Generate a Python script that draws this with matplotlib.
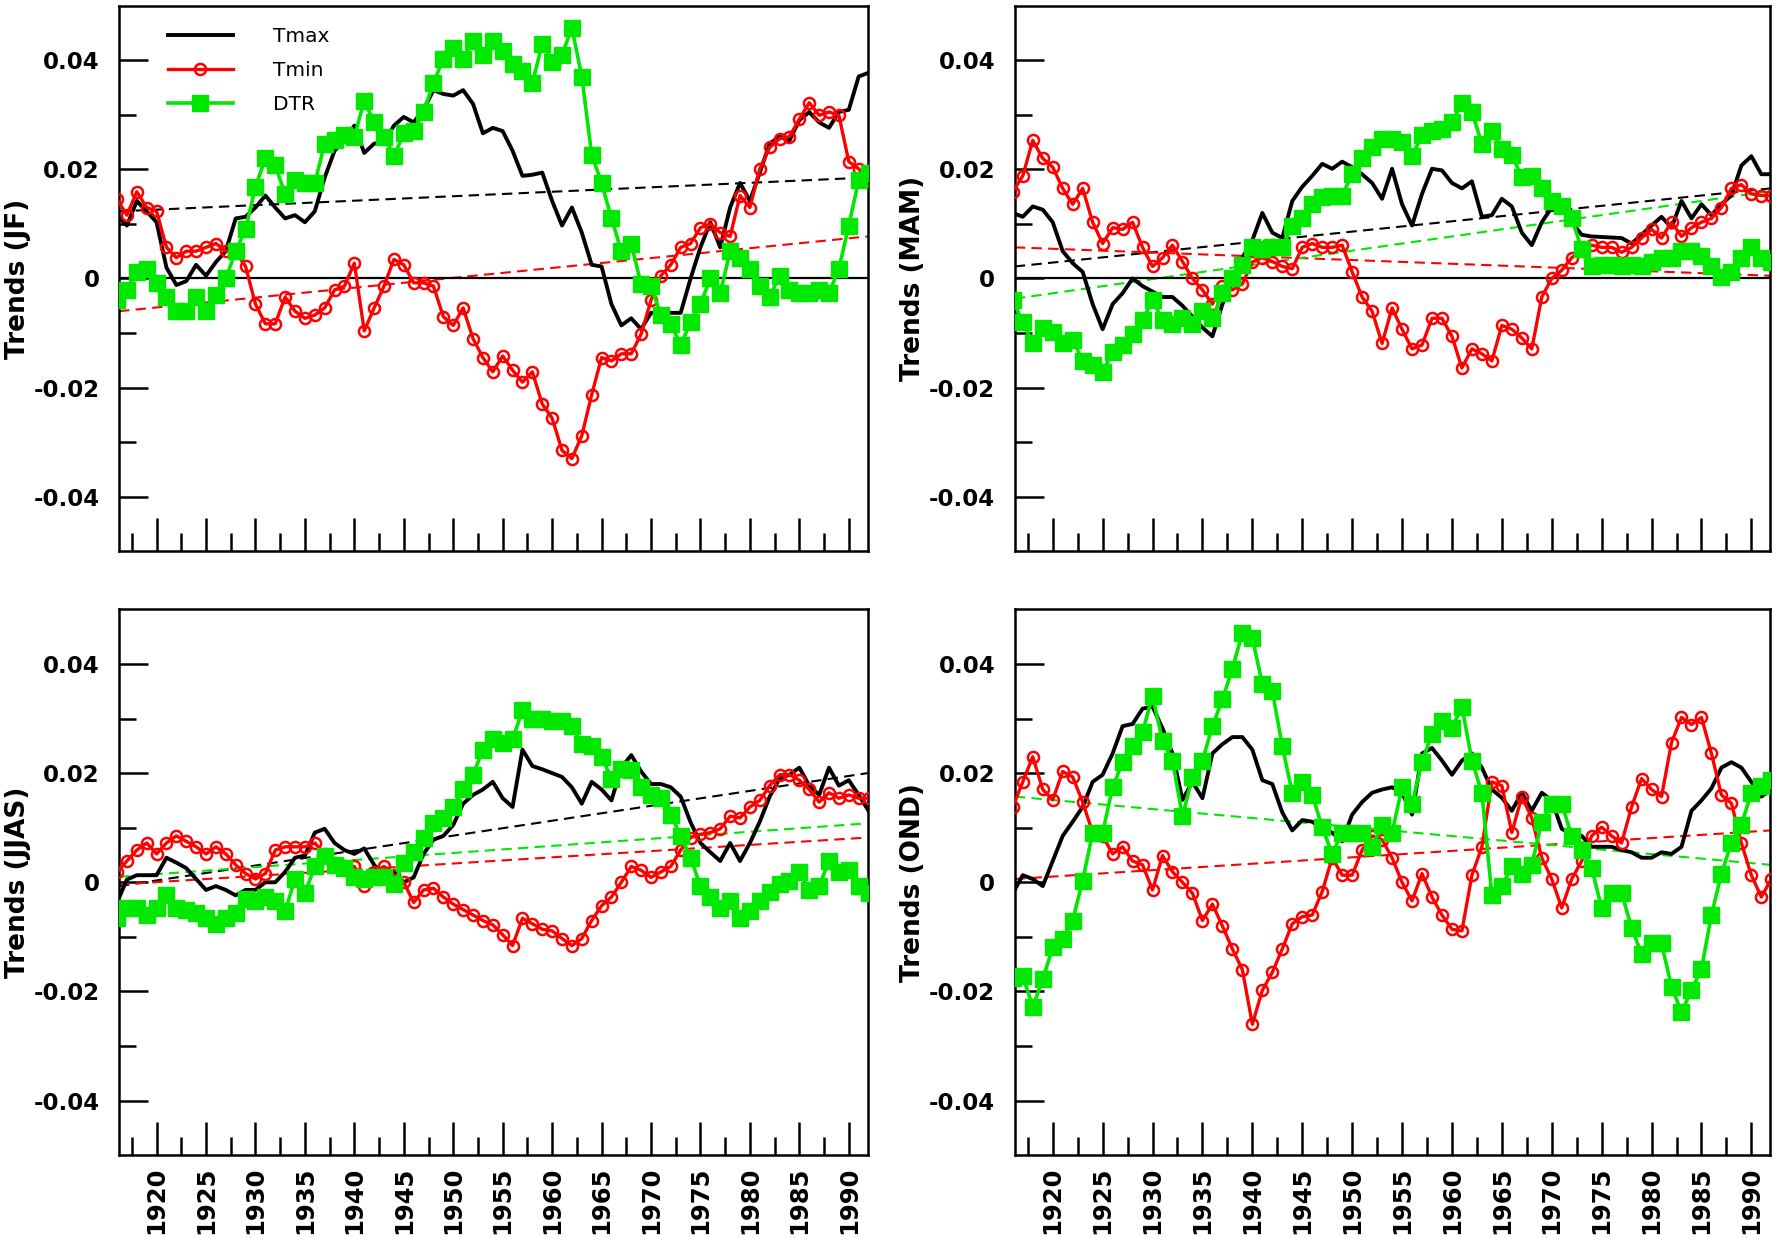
import numpy as np
import matplotlib
matplotlib.use("Agg")
import matplotlib.pyplot as plt
from matplotlib.ticker import FixedLocator, FixedFormatter

years = np.arange(1916, 1993)

# JF
jf_tmax = [0.0116, 0.0097, 0.0142, 0.0123, 0.0103, 0.0020, -0.0012, -0.0005, 0.0025, 0.0005,
           0.0030, 0.0050, 0.0110, 0.0113, 0.0130, 0.0152, 0.0130, 0.0110, 0.0116, 0.0103,
           0.0123, 0.0185, 0.0234, 0.0253, 0.0280, 0.0230, 0.0247, 0.0250, 0.0280, 0.0296,
           0.0286, 0.0310, 0.0345, 0.0338, 0.0335, 0.0345, 0.0320, 0.0266, 0.0276, 0.0270,
           0.0234, 0.0188, 0.0190, 0.0194, 0.0142, 0.0097, 0.0130, 0.0084, 0.0025, 0.0022,
           -0.0047, -0.0086, -0.0073, -0.0093, -0.0063, -0.0063, -0.0063, -0.0063, 0.0000, 0.0057,
           0.0103, 0.0057, 0.0130, 0.0175, 0.0142, 0.0194, 0.0247, 0.0260, 0.0253, 0.0290,
           0.0305, 0.0286, 0.0276, 0.0305, 0.0309, 0.0370, 0.0377]
jf_tmin = [0.0145, 0.0116, 0.0159, 0.0130, 0.0123, 0.0057, 0.0038, 0.0050, 0.0050, 0.0057,
           0.0064, 0.0050, 0.0050, 0.0022, -0.0047, -0.0083, -0.0083, -0.0034, -0.0060, -0.0073,
           -0.0067, -0.0054, -0.0021, -0.0014, 0.0028, -0.0096, -0.0054, -0.0014, 0.0035, 0.0025,
           -0.0008, -0.0008, -0.0014, -0.0070, -0.0086, -0.0054, -0.0110, -0.0145, -0.0171, -0.0142,
           -0.0168, -0.0190, -0.0171, -0.0230, -0.0256, -0.0315, -0.0330, -0.0288, -0.0213, -0.0145,
           -0.0151, -0.0138, -0.0138, -0.0102, -0.0040, 0.0005, 0.0025, 0.0057, 0.0064, 0.0093,
           0.0100, 0.0084, 0.0077, 0.0152, 0.0130, 0.0201, 0.0240, 0.0256, 0.0260, 0.0292,
           0.0322, 0.0299, 0.0305, 0.0299, 0.0214, 0.0201, 0.0180]
jf_dtr = [-0.0040, -0.0021, 0.0012, 0.0018, -0.0008, -0.0034, -0.0060, -0.0060, -0.0034, -0.0060,
          -0.0030, 0.0000, 0.0050, 0.0090, 0.0168, 0.0220, 0.0207, 0.0155, 0.0180, 0.0175,
          0.0175, 0.0247, 0.0253, 0.0263, 0.0260, 0.0325, 0.0286, 0.0260, 0.0224, 0.0266,
          0.0270, 0.0305, 0.0358, 0.0403, 0.0423, 0.0403, 0.0436, 0.0410, 0.0436, 0.0416,
          0.0393, 0.0380, 0.0358, 0.0430, 0.0397, 0.0410, 0.0459, 0.0370, 0.0227, 0.0175,
          0.0110, 0.0050, 0.0064, -0.0011, -0.0014, -0.0067, -0.0083, -0.0122, -0.0080, -0.0047,
          0.0000, -0.0027, 0.0050, 0.0038, 0.0018, -0.0014, -0.0034, 0.0005, -0.0021, -0.0027,
          -0.0027, -0.0021, -0.0027, 0.0018, 0.0097, 0.0180, 0.0194]

# MAM
mam_tmax = [0.0120, 0.0113, 0.0132, 0.0126, 0.0103, 0.0050, 0.0028, 0.0012, -0.0047, -0.0093,
            -0.0047, -0.0027, 0.0000, -0.0014, -0.0024, -0.0034, -0.0034, -0.0050, -0.0070, -0.0090,
            -0.0106, -0.0047, -0.0008, 0.0038, 0.0070, 0.0120, 0.0084, 0.0074, 0.0142, 0.0168,
            0.0188, 0.0210, 0.0201, 0.0214, 0.0204, 0.0191, 0.0175, 0.0146, 0.0201, 0.0136,
            0.0097, 0.0155, 0.0201, 0.0198, 0.0175, 0.0165, 0.0178, 0.0113, 0.0116, 0.0146,
            0.0132, 0.0084, 0.0061, 0.0103, 0.0130, 0.0136, 0.0103, 0.0080, 0.0077, 0.0076,
            0.0075, 0.0074, 0.0064, 0.0080, 0.0097, 0.0113, 0.0093, 0.0142, 0.0110, 0.0136,
            0.0116, 0.0136, 0.0152, 0.0207, 0.0224, 0.0191, 0.0191]
mam_tmin = [0.0159, 0.0188, 0.0253, 0.0220, 0.0204, 0.0165, 0.0136, 0.0165, 0.0103, 0.0064,
            0.0093, 0.0090, 0.0103, 0.0057, 0.0022, 0.0038, 0.0061, 0.0031, 0.0000, -0.0021,
            -0.0047, -0.0014, -0.0021, -0.0010, 0.0030, 0.0038, 0.0031, 0.0022, 0.0018, 0.0057,
            0.0064, 0.0057, 0.0057, 0.0061, 0.0012, -0.0034, -0.0060, -0.0119, -0.0054, -0.0093,
            -0.0129, -0.0122, -0.0073, -0.0073, -0.0106, -0.0164, -0.0129, -0.0138, -0.0151, -0.0086,
            -0.0093, -0.0109, -0.0129, -0.0034, 0.0000, 0.0015, 0.0038, 0.0050, 0.0061, 0.0057,
            0.0057, 0.0048, 0.0057, 0.0074, 0.0090, 0.0074, 0.0103, 0.0077, 0.0093, 0.0103,
            0.0110, 0.0130, 0.0165, 0.0172, 0.0155, 0.0152, 0.0152]
mam_dtr = [-0.0040, -0.0080, -0.0119, -0.0090, -0.0099, -0.0119, -0.0112, -0.0151, -0.0158, -0.0171,
           -0.0135, -0.0122, -0.0102, -0.0076, -0.0040, -0.0076, -0.0083, -0.0073, -0.0083, -0.0060,
           -0.0073, -0.0027, 0.0000, 0.0025, 0.0057, 0.0054, 0.0057, 0.0057, 0.0097, 0.0110,
           0.0136, 0.0149, 0.0152, 0.0152, 0.0191, 0.0220, 0.0240, 0.0256, 0.0256, 0.0250,
           0.0224, 0.0263, 0.0270, 0.0273, 0.0286, 0.0322, 0.0305, 0.0247, 0.0270, 0.0237,
           0.0227, 0.0185, 0.0188, 0.0165, 0.0142, 0.0132, 0.0110, 0.0054, 0.0022, 0.0025,
           0.0025, 0.0022, 0.0025, 0.0022, 0.0030, 0.0038, 0.0038, 0.0050, 0.0050, 0.0041,
           0.0022, 0.0003, 0.0012, 0.0038, 0.0057, 0.0038, 0.0031]

# JJAS
jjas_tmax = [-0.0037, 0.0005, 0.0013, 0.0013, 0.0013, 0.0045, 0.0036, 0.0026, 0.0006, -0.0014,
             -0.0007, -0.0014, -0.0024, -0.0014, -0.0014, 0.0000, 0.0000, 0.0019, 0.0045, 0.0049,
             0.0091, 0.0098, 0.0072, 0.0059, 0.0052, 0.0062, 0.0032, 0.0013, 0.0019, 0.0000,
             0.0009, 0.0052, 0.0078, 0.0085, 0.0105, 0.0144, 0.0160, 0.0170, 0.0184, 0.0154,
             0.0138, 0.0243, 0.0213, 0.0207, 0.0200, 0.0193, 0.0174, 0.0144, 0.0184, 0.0170,
             0.0150, 0.0210, 0.0233, 0.0203, 0.0180, 0.0180, 0.0174, 0.0157, 0.0110, 0.0072,
             0.0055, 0.0039, 0.0072, 0.0039, 0.0072, 0.0111, 0.0157, 0.0190, 0.0197, 0.0210,
             0.0177, 0.0160, 0.0210, 0.0177, 0.0187, 0.0160, 0.0131]
jjas_tmin = [0.0019, 0.0039, 0.0059, 0.0072, 0.0052, 0.0072, 0.0085, 0.0075, 0.0065, 0.0052,
             0.0065, 0.0052, 0.0032, 0.0016, 0.0006, 0.0016, 0.0059, 0.0065, 0.0065, 0.0065,
             0.0072, 0.0052, 0.0036, 0.0029, 0.0029, -0.0007, 0.0019, 0.0029, 0.0013, 0.0000,
             -0.0037, -0.0014, -0.0011, -0.0027, -0.0040, -0.0050, -0.0060, -0.0070, -0.0078, -0.0096,
             -0.0116, -0.0066, -0.0076, -0.0086, -0.0089, -0.0103, -0.0116, -0.0103, -0.0070, -0.0043,
             -0.0027, 0.0000, 0.0029, 0.0022, 0.0009, 0.0019, 0.0029, 0.0059, 0.0082, 0.0088,
             0.0091, 0.0098, 0.0121, 0.0118, 0.0138, 0.0150, 0.0177, 0.0197, 0.0197, 0.0187,
             0.0170, 0.0147, 0.0164, 0.0154, 0.0160, 0.0154, 0.0154]
jjas_dtr = [-0.0066, -0.0047, -0.0047, -0.0060, -0.0047, -0.0024, -0.0047, -0.0050, -0.0057, -0.0066,
            -0.0076, -0.0066, -0.0057, -0.0030, -0.0034, -0.0027, -0.0034, -0.0053, 0.0006, -0.0020,
            0.0029, 0.0049, 0.0032, 0.0026, 0.0009, 0.0006, 0.0009, 0.0009, -0.0004, 0.0036,
            0.0055, 0.0082, 0.0108, 0.0118, 0.0138, 0.0170, 0.0197, 0.0243, 0.0262, 0.0256,
            0.0262, 0.0315, 0.0299, 0.0299, 0.0295, 0.0295, 0.0286, 0.0253, 0.0250, 0.0230,
            0.0190, 0.0208, 0.0205, 0.0175, 0.0160, 0.0154, 0.0124, 0.0085, 0.0045, -0.0007,
            -0.0027, -0.0047, -0.0034, -0.0066, -0.0053, -0.0034, -0.0017, -0.0004, 0.0003, 0.0019,
            -0.0014, -0.0007, 0.0039, 0.0019, 0.0022, -0.0007, -0.0020]

# OND
ond_tmax = [-0.0020, 0.0013, 0.0006, -0.0007, 0.0039, 0.0085, 0.0111, 0.0138, 0.0184, 0.0197,
            0.0236, 0.0286, 0.0290, 0.0318, 0.0322, 0.0282, 0.0236, 0.0151, 0.0184, 0.0154,
            0.0236, 0.0253, 0.0266, 0.0266, 0.0243, 0.0187, 0.0180, 0.0128, 0.0095, 0.0114,
            0.0111, 0.0098, 0.0091, 0.0075, 0.0124, 0.0147, 0.0164, 0.0170, 0.0174, 0.0164,
            0.0124, 0.0236, 0.0246, 0.0223, 0.0197, 0.0223, 0.0236, 0.0210, 0.0170, 0.0155,
            0.0131, 0.0164, 0.0131, 0.0164, 0.0150, 0.0098, 0.0088, 0.0085, 0.0065, 0.0065,
            0.0065, 0.0059, 0.0055, 0.0045, 0.0045, 0.0055, 0.0052, 0.0065, 0.0131, 0.0150,
            0.0172, 0.0210, 0.0220, 0.0210, 0.0184, 0.0157, 0.0170]
ond_tmin = [0.0138, 0.0184, 0.0230, 0.0170, 0.0151, 0.0203, 0.0193, 0.0147, 0.0091, 0.0085,
            0.0052, 0.0065, 0.0039, 0.0032, -0.0014, 0.0049, 0.0019, 0.0000, -0.0020, -0.0070,
            -0.0040, -0.0080, -0.0122, -0.0160, -0.0260, -0.0198, -0.0165, -0.0122, -0.0076, -0.0063,
            -0.0060, -0.0017, 0.0045, 0.0013, 0.0013, 0.0059, 0.0085, 0.0078, 0.0045, 0.0000,
            -0.0034, 0.0016, -0.0027, -0.0060, -0.0086, -0.0089, 0.0013, 0.0065, 0.0184, 0.0177,
            0.0091, 0.0157, 0.0118, 0.0045, 0.0006, -0.0047, 0.0006, 0.0039, 0.0085, 0.0101,
            0.0085, 0.0072, 0.0138, 0.0190, 0.0170, 0.0157, 0.0256, 0.0302, 0.0289, 0.0302,
            0.0236, 0.0160, 0.0145, 0.0072, 0.0013, -0.0027, 0.0006]
ond_dtr = [-0.0175, -0.0172, -0.0228, -0.0178, -0.0119, -0.0103, -0.0070, 0.0003, 0.0091, 0.0091,
           0.0174, 0.0220, 0.0249, 0.0276, 0.0341, 0.0259, 0.0223, 0.0121, 0.0193, 0.0223,
           0.0286, 0.0335, 0.0391, 0.0457, 0.0447, 0.0364, 0.0351, 0.0249, 0.0164, 0.0184,
           0.0160, 0.0101, 0.0052, 0.0091, 0.0091, 0.0091, 0.0065, 0.0105, 0.0091, 0.0174,
           0.0144, 0.0220, 0.0272, 0.0295, 0.0282, 0.0322, 0.0223, 0.0164, -0.0024, -0.0007,
           0.0029, 0.0016, 0.0032, 0.0111, 0.0144, 0.0144, 0.0085, 0.0059, 0.0026, -0.0047,
           -0.0020, -0.0020, -0.0083, -0.0132, -0.0112, -0.0112, -0.0191, -0.0238, -0.0198, -0.0159,
           -0.0060, 0.0016, 0.0072, 0.0105, 0.0164, 0.0177, 0.0187]

seasons = ["JF", "MAM", "JJAS", "OND"]
series = {
    "JF": (jf_tmax, jf_tmin, jf_dtr),
    "MAM": (mam_tmax, mam_tmin, mam_dtr),
    "JJAS": (jjas_tmax, jjas_tmin, jjas_dtr),
    "OND": (ond_tmax, ond_tmin, ond_dtr),
}
# linear trend lines: (start value, end value) for Tmax, Tmin, DTR; None = not drawn
trends = {
    "JF": [(0.0123, 0.0185), (-0.0060, 0.0077), None],
    "MAM": [(0.0022, 0.0165), (0.0057, 0.0005), (-0.0037, 0.0160)],
    "JJAS": [(-0.0007, 0.0200), (-0.0004, 0.0082), (0.0010, 0.0108)],
    "OND": [None, (0.0006, 0.0095), (0.0157, 0.0032)],
}
zero_line = {"JF": True, "MAM": True, "JJAS": False, "OND": False}

x0, x1 = 1916.2, 1991.9
green = "#00e800"
colors = ["black", "red", green]

fig = plt.figure(figsize=(17.76, 12.39), dpi=100)
boxes = [
    [0.067, 0.555, 0.4215, 0.4405],
    [0.5714, 0.555, 0.4254, 0.4405],
    [0.067, 0.0676, 0.4215, 0.4406],
    [0.5714, 0.0676, 0.4254, 0.4406],
]

for i, (box, s) in enumerate(zip(boxes, seasons)):
    ax = fig.add_axes(box)
    tmax, tmin, dtr = series[s]

    for tr, c in zip(trends[s], colors):
        if tr is not None:
            ax.plot([x0, x1], tr, color=c, lw=1.5, ls=(0, (5, 3)), zorder=2)
    if zero_line[s]:
        ax.axhline(0, color="black", lw=1.6, zorder=2)

    ax.plot(years, tmax, color="black", lw=2.8, zorder=3, label="Tmax")
    ax.plot(years, tmin, color="red", lw=2.4, marker="o", ms=8, mfc="none",
            mec="red", mew=1.8, zorder=4, label="Tmin")
    ax.plot(years, dtr, color=green, lw=2.6, marker="s", ms=11.5, mfc=green,
            mec=green, zorder=5, label="DTR")

    ax.set_xlim(x0, x1)
    ax.set_ylim(-0.05, 0.05)

    ax.xaxis.set_major_locator(FixedLocator(np.arange(1920, 1991, 5)))
    ax.xaxis.set_minor_locator(FixedLocator(np.arange(1917.5, 1993, 5)))
    ax.yaxis.set_major_locator(FixedLocator([-0.04, -0.02, 0, 0.02, 0.04]))
    ax.yaxis.set_major_formatter(FixedFormatter(["-0.04", "-0.02", "0", "0.02", "0.04"]))
    ax.yaxis.set_minor_locator(FixedLocator([-0.03, -0.01, 0.01, 0.03]))

    ax.tick_params(axis="both", which="both", direction="in", width=1.8, colors="black")
    ax.tick_params(axis="y", which="major", length=21, pad=14, labelsize=16.5)
    ax.tick_params(axis="y", which="minor", length=12)
    ax.tick_params(axis="x", which="major", length=24, pad=8, labelsize=17.5,
                   labelrotation=90, labelbottom=(i >= 2))
    ax.tick_params(axis="x", which="minor", length=13)
    for lab in ax.get_xticklabels() + ax.get_yticklabels():
        lab.set_fontweight("bold")
    for sp in ax.spines.values():
        sp.set_linewidth(1.8)

    ax.set_ylabel("Trends (%s)" % s, fontsize=19, fontweight="bold")
    ax.yaxis.set_label_coords(-0.117, 0.5)

    if s == "JF":
        ax.legend(loc="upper left", bbox_to_anchor=(0.055, 0.975), frameon=False,
                  fontsize=14.5, handlelength=3.2, handletextpad=2.0, labelspacing=0.75,
                  borderaxespad=0, markerscale=1.0)

fig.savefig("out.png", dpi=100)
